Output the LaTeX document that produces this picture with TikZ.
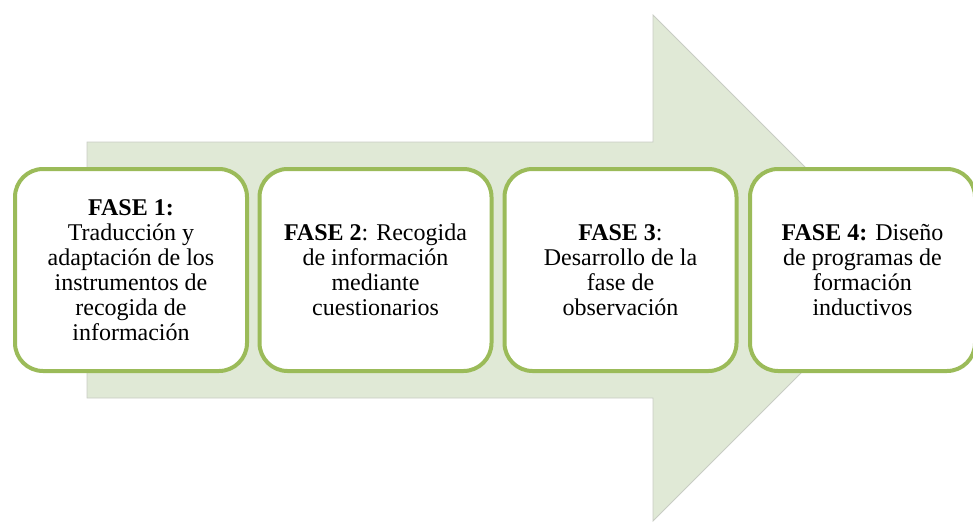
\documentclass[tikz,border=0pt]{standalone}
\usepackage{fontspec}
\setmainfont{Liberation Serif}
\definecolor{arrowfill}{HTML}{E0E9D6}
\definecolor{arrowedge}{HTML}{C8CCC4}
\definecolor{boxedge}{HTML}{9BBB59}
\begin{document}
\begin{tikzpicture}[x=0.75pt,y=-0.75pt,
  phasebox/.style={draw=boxedge, line width=3pt, fill=white, rounded corners=21pt,
    minimum height=151.5pt, align=center, inner sep=0pt,
    font=\fontsize{18}{18.75}\selectfont},
  bigarrow/.style={fill=arrowfill, draw=arrowedge, line width=0.6pt}]
\useasboundingbox (0,0) rectangle (973,521);
\begin{scope}
\clip (0,0) rectangle (973,521);
\draw[bigarrow] (87,142) -- (653,142) -- (653,15) -- (906,268) -- (653,521) -- (653,398) -- (87,398) -- cycle;
\node[phasebox, minimum width=174pt] (f1) at (131,270)
  {\textbf{FASE 1:}\\Traducción y\\adaptación de los\\instrumentos de\\recogida de\\información};
\node[phasebox, minimum width=174pt] (f2) at (375.5,270)
  {\textbf{FASE 2}: Recogida\\de información\\mediante\\cuestionarios};
\node[phasebox, minimum width=174pt] (f3) at (620.5,270)
  {\textbf{FASE 3}:\\Desarrollo de la\\fase de\\observación};
\node[phasebox, minimum width=168.75pt] (f4) at (862.5,270)
  {\textbf{FASE 4:} Diseño\\de programas de\\formación\\inductivos};
\end{scope}
\end{tikzpicture}
\end{document}
